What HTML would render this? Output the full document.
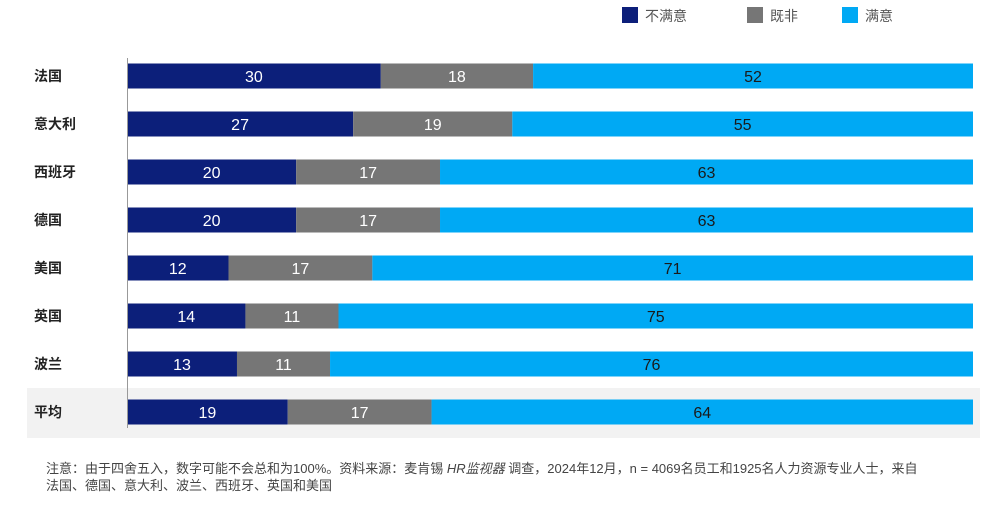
<!DOCTYPE html>
<html><head><meta charset="utf-8"><style>
body{margin:0;background:#fff;width:996px;height:502px;overflow:hidden;font-family:"Liberation Sans","Noto Sans CJK SC",sans-serif}
</style></head><body>
<svg id="chart" width="996" height="502" viewBox="0 0 996 502" xmlns="http://www.w3.org/2000/svg" font-family="Liberation Sans, Noto Sans CJK SC, sans-serif">
<rect x="27" y="388" width="953" height="50" fill="#f2f2f2"/>
<g>
<rect x="622" y="7" width="16" height="16" fill="#0c1f7a"/>
<text x="645" y="21" font-size="14" fill="#555">不满意</text>
<rect x="747" y="7" width="16" height="16" fill="#767676"/>
<text x="770" y="21" font-size="14" fill="#555">既非</text>
<rect x="842" y="7" width="16" height="16" fill="#00a9f4"/>
<text x="865" y="21" font-size="14" fill="#555">满意</text>
</g>
<g id="bars"></g>
<line x1="127.5" y1="58" x2="127.5" y2="428" stroke="#999" stroke-width="1"/>
<text x="46" y="473" font-size="13" fill="#444">注意：由于四舍五入，数字可能不会总和为100%。资料来源：麦肯锡 <tspan font-style="italic">HR监视器</tspan> 调查，2024年12月，n = 4069名员工和1925名人力资源专业人士，来自</text>
<text x="46" y="490" font-size="13" fill="#444">法国、德国、意大利、波兰、西班牙、英国和美国</text>
</svg>
<script>
const categories=["法国","意大利","西班牙","德国","美国","英国","波兰","平均"];
const dissatisfied=[30,27,20,20,12,14,13,19];
const neutral=[18,19,17,17,17,11,11,17];
const satisfied=[52,55,63,63,71,75,76,64];
const x0=127,x1=973,y0=76,step=48,bh=25;
const ys=i=>y0+i*step;
const ns="http://www.w3.org/2000/svg";
const g=document.getElementById('bars');
const series=[[dissatisfied,"#0c1f7a","dissatisfied"],[neutral,"#767676","neutral"],[satisfied,"#00a9f4","satisfied"]];
categories.forEach((c,i)=>{
  const total=dissatisfied[i]+neutral[i]+satisfied[i];
  const xs=v=>x0+(x1-x0)*v/total;
  const t=document.createElementNS(ns,'text');
  
  
  t.setAttribute('x',34);t.setAttribute('y',ys(i)+5);
  t.setAttribute('font-size','14');t.setAttribute('font-weight','bold');t.setAttribute('fill','#222');
  t.textContent=c;g.appendChild(t);
  let acc=0;
  series.forEach(([arr,col,nm])=>{
    const v=arr[i];
    const r=document.createElementNS(ns,'rect');
    
    
    r.setAttribute('x',xs(acc));r.setAttribute('y',ys(i)-bh/2);
    r.setAttribute('width',xs(acc+v)-xs(acc));r.setAttribute('height',bh);
    r.setAttribute('fill',col);g.appendChild(r);
    const l=document.createElementNS(ns,'text');
    
    
    l.setAttribute('x',(xs(acc)+xs(acc+v))/2);l.setAttribute('y',ys(i)+6);
    l.setAttribute('text-anchor','middle');l.setAttribute('font-size','16');
    l.setAttribute('fill',nm==='satisfied'?'#1a1a1a':'#fff');
    l.textContent=v;g.appendChild(l);
    acc+=v;
  });
});
</script>
</body></html>
